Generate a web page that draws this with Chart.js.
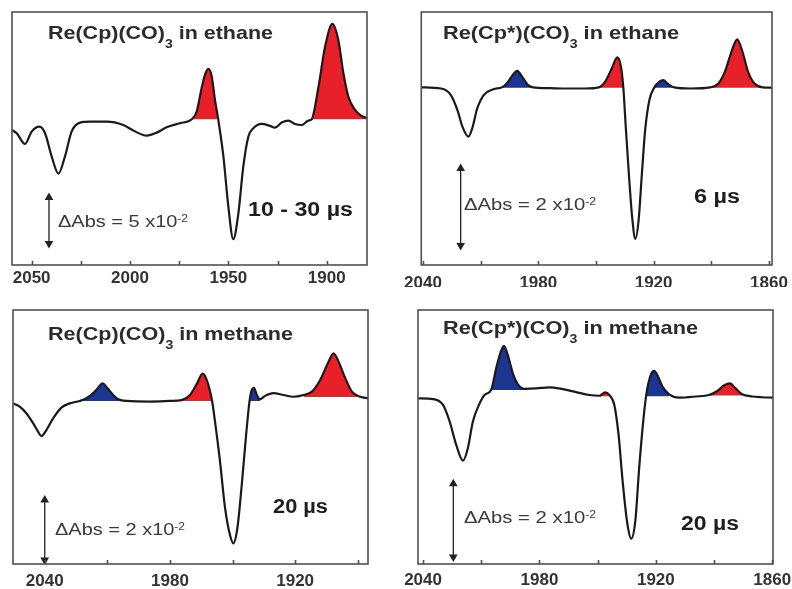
<!DOCTYPE html>
<html>
<head>
<meta charset="utf-8">
<script src="https://cdn.jsdelivr.net/npm/chart.js@4.4.1/dist/chart.umd.min.js"></script>
<style>
  html, body { margin: 0; padding: 0; background: #fff; }
  #wrap { position: relative; width: 792px; height: 589px; }
  #wrap canvas { position: absolute; }
</style>
</head>
<body>
<div id="wrap">
  <canvas id="c1" width="396" height="295" style="left:0;top:0"></canvas>
  <canvas id="c2" width="396" height="295" style="left:396px;top:0"></canvas>
  <canvas id="c3" width="396" height="294" style="left:0;top:295px"></canvas>
  <canvas id="c4" width="396" height="294" style="left:396px;top:295px"></canvas>
</div>
<script>
// Transient IR difference spectra, wavenumber (cm-1) vs dAbs (units of 1e-3)

// Re(Cp)(CO)3 in ethane, 10 - 30 us
const p1Wn = [2060, 2057.6, 2053.4, 2050, 2046.1, 2043.2, 2039.8, 2036.4, 2033.1, 2029.7, 2025.4, 2020.3, 2011.9, 2003.4, 1998.3, 1991.5, 1986.4, 1981.4, 1974.6, 1968.6, 1966.1, 1963.6, 1961.9, 1960.2, 1958.5, 1956.8, 1955.1, 1952.5, 1950, 1947.5, 1944.9, 1942.4, 1939.8, 1937.3, 1933.1, 1928.8, 1926.3, 1922.9, 1919.5, 1916.1, 1912.7, 1909.3, 1907.6, 1904.2, 1900.8, 1897.1, 1894.1, 1891.5, 1889, 1885.6, 1882.2, 1879.5];
const p1Abs = [-11.6, -15.2, -26.8, -13.4, -8.0, -15.2, -40.6, -59.1, -40.6, -13.4, -3.6, -2.5, -2.5, -6.2, -12.3, -17.8, -14.5, -8.7, -4.3, 0, 8.3, 33.7, 48.2, 54.7, 47.1, 21.0, -0.7, -40.6, -94.9, -130.4, -102.2, -51.4, -18.8, -9.8, -5.1, -7.2, -9.1, -3.6, -1.4, -5.1, -6.2, -1.4, 0, 34.8, 79.0, 103.6, 86.2, 50.0, 24.6, 10.1, 3.6, 1.1];
const p1Fills = [[1968.6, 1955.1, "red", 0], [1907.6, 1879.5, "red", 0]];

// Re(Cp*)(CO)3 in ethane, 6 us
const p2Wn = [2040.9, 2030.6, 2025.5, 2022.1, 2019.5, 2016.4, 2014.4, 2011.8, 2008.4, 2003.3, 1999.0, 1996.4, 1993.9, 1991.0, 1988.2, 1985.3, 1982.8, 1974.2, 1965.7, 1955.5, 1948.6, 1945.2, 1941.8, 1938.9, 1937.0, 1935.8, 1934.5, 1932.9, 1931.2, 1929.5, 1927.8, 1926.1, 1924.4, 1922.2, 1919.6, 1917.0, 1915.0, 1912.8, 1909.3, 1900.8, 1890.6, 1886.3, 1882.9, 1879.8, 1876.5, 1873.5, 1870.9, 1867.5, 1863.2, 1858.4];
const p2Abs = [0.1, -0.2, -1.9, -5.8, -10.1, -12.7, -10.6, -5.4, -1.9, -0.4, 0.1, 1.1, 2.9, 4.4, 2.7, 0.7, 0.1, -0.1, -0.2, -0.2, 0.1, 1.6, 5.0, 7.9, 5.5, 0.3, -10.1, -22.3, -33.5, -39.3, -34.4, -22.3, -11.0, -3.2, 0.1, 1.6, 2.0, 1.1, 0.1, -0.2, 0.1, 1.1, 4.2, 8.9, 12.6, 8.9, 4.2, 1.1, 0.1, 0];
const p2Fills = [[1999.0, 1982.8, "blue", 0], [1948.6, 1935.8, "red", 0], [1919.6, 1909.3, "blue", 0], [1890.6, 1863.2, "red", 0]];

// Re(Cp)(CO)3 in methane, 20 us
const p3Wn = [2055.2, 2052.0, 2048.8, 2045.6, 2043.2, 2041.6, 2039.2, 2036.0, 2032.0, 2028.0, 2023.2, 2020.0, 2016.8, 2014.4, 2012.3, 2010.1, 2007.2, 2004.8, 2000.8, 1989.6, 1980.0, 1974.4, 1970.4, 1967.2, 1964.3, 1962.4, 1959.8, 1958.4, 1956.0, 1953.6, 1951.2, 1949.6, 1947.7, 1945.6, 1943.5, 1941.9, 1940.8, 1939.7, 1938.4, 1936.8, 1934.4, 1930.4, 1925.6, 1920.8, 1916.0, 1912.0, 1908.0, 1904.0, 1901.6, 1899.2, 1896.0, 1892.8, 1888.8, 1885.1];
const p3Abs = [-0.8, -1.9, -4.1, -7.4, -10.2, -11.7, -9.7, -5.8, -2.2, -0.8, 0, 0.9, 2.6, 4.4, 5.9, 4.4, 2.0, 0.6, 0, -0.2, 0, 0.3, 2.0, 5.6, 9.1, 7.0, 0, -6.9, -20.2, -35.6, -44.7, -47.4, -42.4, -28.0, -11.3, -0.2, 3.7, 4.4, 2.0, 0.6, 1.7, 2.6, 2.0, 1.4, 2.0, 3.1, 7.0, 13.1, 15.9, 13.1, 7.6, 3.1, 1.4, 0.9];
const p3Fills = [[2023.2, 2000.8, "blue", 0], [1974.4, 1959.8, "red", 0], [1941.9, 1936.8, "blue", 0], [1916.0, 1888.8, "red", 1.3]];

// Re(Cp*)(CO)3 in methane, 20 us
const p4Wn = [2042.6, 2034.9, 2029.7, 2026.3, 2022.9, 2019.4, 2016.9, 2014.3, 2011.2, 2008.3, 2004.9, 2002.3, 2000.2, 1998.3, 1996.3, 1993.7, 1991.1, 1987.7, 1981.7, 1974.9, 1968.0, 1961.1, 1954.3, 1949.1, 1946.1, 1944.0, 1941.4, 1939.2, 1937.1, 1934.6, 1932.7, 1930.6, 1928.6, 1926.5, 1924.8, 1922.6, 1920.9, 1918.8, 1916.6, 1913.1, 1908.0, 1899.4, 1892.6, 1888.3, 1884.9, 1881.8, 1878.9, 1875.5, 1870.3, 1865.2, 1859.6];
const p4Abs = [-0.2, -0.4, -2.0, -6.5, -12.9, -17.2, -13.8, -6.5, -2.0, 0.7, 2.1, 8.0, 12.1, 14.1, 11.6, 6.6, 3.6, 2.4, 2.5, 2.8, 2.3, 1.5, 0.7, 0.5, 1.4, 0.7, -2.0, -10.2, -22.9, -34.7, -38.5, -33.8, -19.3, -6.5, 1.2, 6.2, 7.3, 5.7, 3.0, 0.9, 0, 0.3, 0.7, 1.8, 3.3, 3.9, 2.5, 0.9, 0.3, 0.1, 0];
const p4Fills = [[2004.9, 1987.7, "blue", 2.1], [1949.1, 1944.0, "red", 0.4], [1924.8, 1913.1, "blue", 0.4], [1892.6, 1875.5, "red", 0.6]];

// axis ticks (labelled, then unlabelled)
const ticksA = [2050, 2000, 1950, 1900];
const minorA = [2025, 1975, 1925];
const ticksB = [2040, 1980, 1920, 1860];
const ticksC = [2040, 1980, 1920];
const minorB = [2010, 1950, 1890];

// scale bars: [wavenumber, top, bottom] in dAbs 1e-3
const bar1 = [2041.2, -85, -135];
const bar2 = [2020.4, -21, -41];
const bar3 = [2040, -33, -53];
const bar4 = [2024.4, -23.5, -43.5];

const fillColors = { red: "#e8202a", blue: "#1b3590" };
const FONT = '"Liberation Sans", Arial, sans-serif';

function drawRuns(ctx, item) {
  const parts = item.runs.map(r => {
    const size = r.sub ? item.size * 0.65 : r.sup ? item.size * 0.6 : item.size;
    const font = `${item.weight} ${size}px ${FONT}`;
    ctx.font = font;
    const dy = r.sub ? item.size * 0.45 : r.sup ? -item.size * 0.32 : 0;
    return { text: r.t, font, dy, w: ctx.measureText(r.t).width };
  });
  const natural = parts.reduce((s, p) => s + p.w, 0);
  ctx.save();
  ctx.translate(item.x, item.y);
  ctx.scale(item.w / natural, 1);
  ctx.fillStyle = item.color;
  ctx.textBaseline = "alphabetic";
  let cx = 0;
  parts.forEach(p => {
    ctx.font = p.font;
    ctx.fillText(p.text, cx, p.dy);
    cx += p.w;
  });
  ctx.restore();
}

const makeDeco = (texts) => ({
  id: "deco",
  afterDraw(chart) {
    const { ctx, chartArea: a } = chart;
    const xs = chart.scales.x;
    ctx.save();
    ctx.strokeStyle = "#505050";
    ctx.lineWidth = 1.6;
    ctx.beginPath();
    xs.ticks.forEach(t => {
      const px = Math.round(xs.getPixelForValue(t.value)) + 0.5;
      ctx.moveTo(px, a.bottom);
      ctx.lineTo(px, a.bottom - 4);
    });
    ctx.stroke();
    ctx.strokeRect(a.left, a.top, a.right - a.left, a.bottom - a.top);
    ctx.restore();
    texts.forEach(item => drawRuns(ctx, item));
  }
});

const title = (name, solvent, x, y, w) => ({
  runs: [{ t: name }, { t: "3", sub: true }, { t: " in " + solvent }],
  x, y, w, size: 19, weight: "bold", color: "#2b2b2b"
});
const dAbs = (n, x, y, w) => ({
  runs: [{ t: "\u0394Abs = " + n + " x10" }, { t: "-2", sup: true }],
  x, y, w, size: 17, weight: "normal", color: "#3a3a3a"
});
const delay = (t, x, y, w) => ({
  runs: [{ t }], x, y, w, size: 20, weight: "bold", color: "#1e1e1e"
});

function makePanel(cfg) {
  const pts = cfg.wn.map((v, i) => ({ x: v, y: cfg.abs[i] }));
  const datasets = [
    {
      data: pts,
      borderColor: "#1a1a1a",
      borderWidth: 2.2,
      pointRadius: 0,
      cubicInterpolationMode: "monotone",
      fill: false,
      order: 0
    },
    {
      data: [{ x: cfg.bar[0], y: cfg.bar[1] }, { x: cfg.bar[0], y: cfg.bar[2] }],
      borderColor: "#222",
      borderWidth: 1.3,
      pointStyle: "triangle",
      pointRadius: 5,
      pointRotation: [0, 180],
      pointBackgroundColor: "#222",
      pointBorderWidth: 0,
      fill: false,
      order: 0
    }
  ];
  cfg.fills.forEach(([hi, lo, color, base]) => {
    datasets.push({
      data: pts.filter(p => p.x <= hi && p.x >= lo),
      borderWidth: 0,
      pointRadius: 0,
      backgroundColor: fillColors[color],
      cubicInterpolationMode: "monotone",
      fill: { value: base },
      order: 2
    });
  });

  const f = cfg.frame;
  const canvas = document.getElementById(cfg.id);
  const axisH = 22;
  const allTicks = cfg.major.concat(cfg.minor);

  new Chart(canvas, {
    type: "line",
    data: { datasets },
    options: {
      responsive: false,
      animation: false,
      events: [],
      layout: {
        padding: { left: f.l, top: f.t, right: canvas.width - f.r, bottom: canvas.height - f.b - axisH }
      },
      plugins: { legend: { display: false }, tooltip: { enabled: false } },
      scales: {
        x: {
          type: "linear",
          reverse: true,
          min: cfg.xRange[0],
          max: cfg.xRange[1],
          afterBuildTicks: axis => { axis.ticks = allTicks.map(v => ({ value: v })); },
          afterFit: axis => { axis.height = axisH; },
          grid: { display: false, drawTicks: false },
          border: { display: false },
          ticks: {
            autoSkip: false,
            maxRotation: 0,
            padding: cfg.tickPad,
            color: "#333",
            font: { family: FONT, size: 17, weight: "bold" },
            callback: v => (cfg.major.includes(v) ? String(v) : "")
          }
        },
        y: { display: false, min: cfg.yRange[0], max: cfg.yRange[1] }
      }
    },
    plugins: [makeDeco(cfg.texts)]
  });
}

makePanel({
  id: "c1", wn: p1Wn, abs: p1Abs, fills: p1Fills, bar: bar1,
  major: ticksA, minor: minorA, xRange: [1879.5, 2060], yRange: [-158.4, 116.6],
  frame: { l: 12, t: 12, r: 367, b: 265 }, tickPad: 3,
  texts: [
    title("Re(Cp)(CO)", "ethane", 48, 39, 225),
    dAbs("5", 58, 227, 130),
    delay("10 - 30 \u00b5s", 248, 216, 105)
  ]
});

makePanel({
  id: "c2", wn: p2Wn, abs: p2Abs, fills: p2Fills, bar: bar2,
  major: ticksB, minor: minorB, xRange: [1858.4, 2040.9], yRange: [-46.1, 19.7],
  frame: { l: 20, t: 12, r: 376, b: 265 }, tickPad: 8,
  texts: [
    title("Re(Cp*)(CO)", "ethane", 47, 39, 236),
    dAbs("2", 68, 210, 132),
    delay("6 \u00b5s", 298, 203, 46)
  ]
});

makePanel({
  id: "c3", wn: p3Wn, abs: p3Abs, fills: p3Fills, bar: bar3,
  major: ticksC, minor: minorB, xRange: [1885.1, 2055.2], yRange: [-54.3, 30.3],
  frame: { l: 13, t: 15, r: 368, b: 269 }, tickPad: 7.5,
  texts: [
    title("Re(Cp)(CO)", "methane", 48, 45, 245),
    dAbs("2", 55, 240, 130),
    delay("20 \u00b5s", 273, 218, 55)
  ]
});

makePanel({
  id: "c4", wn: p4Wn, abs: p4Abs, fills: p4Fills, bar: bar4,
  major: ticksB, minor: minorB, xRange: [1859.6, 2042.6], yRange: [-45.4, 23.9],
  frame: { l: 22, t: 15, r: 377, b: 269 }, tickPad: 6.5,
  texts: [
    title("Re(Cp*)(CO)", "methane", 47, 39, 255),
    dAbs("2", 68, 228, 132),
    delay("20 \u00b5s", 285, 235, 58)
  ]
});
</script>
</body>
</html>
